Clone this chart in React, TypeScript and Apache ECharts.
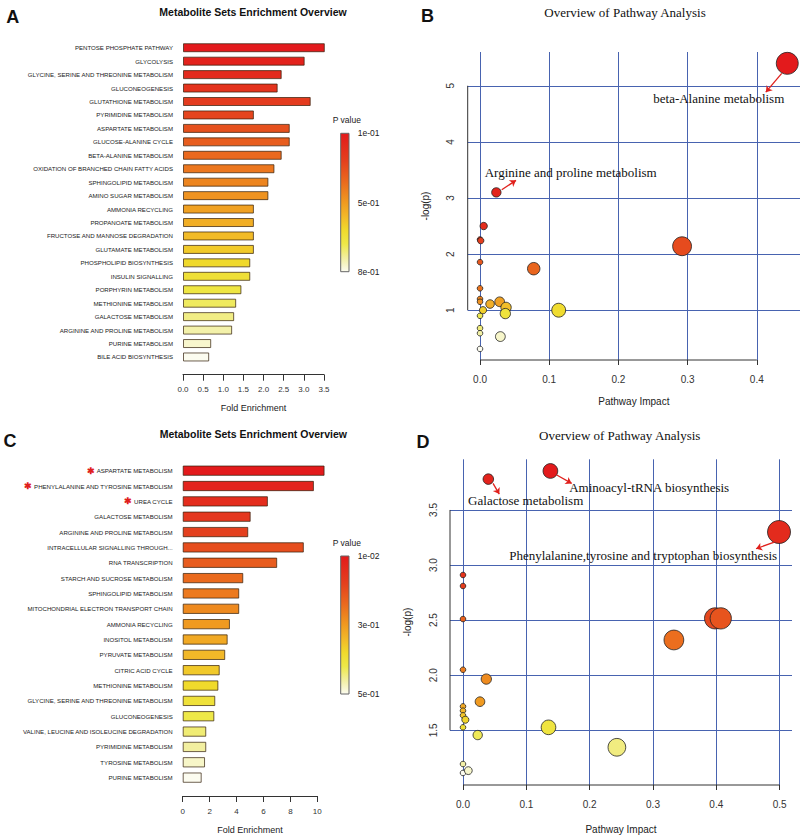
import React, { useEffect, useRef } from 'react';
import * as echarts from 'echarts';

// ---------- Panel A data ----------
const aCategories = [
  'PENTOSE PHOSPHATE PATHWAY', 'GLYCOLYSIS', 'GLYCINE, SERINE AND THREONINE METABOLISM', 'GLUCONEOGENESIS',
  'GLUTATHIONE METABOLISM', 'PYRIMIDINE METABOLISM', 'ASPARTATE METABOLISM', 'GLUCOSE-ALANINE CYCLE',
  'BETA-ALANINE METABOLISM', 'OXIDATION OF BRANCHED CHAIN FATTY ACIDS', 'SPHINGOLIPID METABOLISM',
  'AMINO SUGAR METABOLISM', 'AMMONIA RECYCLING', 'PROPANOATE METABOLISM', 'FRUCTOSE AND MANNOSE DEGRADATION',
  'GLUTAMATE METABOLISM', 'PHOSPHOLIPID BIOSYNTHESIS', 'INSULIN SIGNALLING', 'PORPHYRIN METABOLISM',
  'METHIONINE METABOLISM', 'GALACTOSE METABOLISM', 'ARGININE AND PROLINE METABOLISM', 'PURINE METABOLISM',
  'BILE ACID BIOSYNTHESIS'
];
const aFoldEnrichment = [3.52, 3.02, 2.45, 2.35, 3.17, 1.76, 2.65, 2.65, 2.45, 2.27, 2.12, 2.12, 1.76, 1.76, 1.76, 1.76, 1.67, 1.67, 1.45, 1.32, 1.27, 1.22, 0.70, 0.65];
const aLegendTicks = ['1e-01', '5e-01', '8e-01'];

// ---------- Panel C data ----------
const cCategories = [
  'ASPARTATE METABOLISM', 'PHENYLALANINE AND TYROSINE METABOLISM', 'UREA CYCLE', 'GALACTOSE METABOLISM',
  'ARGININE AND PROLINE METABOLISM', 'INTRACELLULAR SIGNALLING THROUGH...', 'RNA TRANSCRIPTION',
  'STARCH AND SUCROSE METABOLISM', 'SPHINGOLIPID METABOLISM', 'MITOCHONDRIAL ELECTRON TRANSPORT CHAIN',
  'AMMONIA RECYCLING', 'INOSITOL METABOLISM', 'PYRUVATE METABOLISM', 'CITRIC ACID CYCLE', 'METHIONINE METABOLISM',
  'GLYCINE, SERINE AND THREONINE METABOLISM', 'GLUCONEOGENESIS', 'VALINE, LEUCINE AND ISOLEUCINE DEGRADATION',
  'PYRIMIDINE METABOLISM', 'TYROSINE METABOLISM', 'PURINE METABOLISM'
];
const cFoldEnrichment = [10.54, 9.75, 6.33, 5.05, 4.87, 9.0, 7.02, 4.5, 4.2, 4.2, 3.51, 3.34, 3.16, 2.75, 2.65, 2.42, 2.35, 1.75, 1.75, 1.66, 1.41];
const cStarred = ['ASPARTATE METABOLISM', 'PHENYLALANINE AND TYROSINE METABOLISM', 'UREA CYCLE'];
const cLegendTicks = ['1e-02', '3e-01', '5e-01'];

// ---------- Panel B data ----------
const bImpact = [0.444, 0.0236, 0.0053, 0.0, 0.001, 0.0, 0.0776, 0.292, 0.0, 0.0, 0.0, 0.0145, 0.0284, 0.0376, 0.0366, 0.0043, 0.1137, 0.0, 0.0, 0.0, 0.0294, 0.0];
const bLogP = [5.40, 3.10, 2.50, 2.26, 2.24, 1.857, 1.74, 2.14, 1.39, 1.20, 1.15, 1.11, 1.15, 1.05, 0.94, 1.00, 1.00, 0.90, 0.68, 0.59, 0.53, 0.31];
const bXTicks = [0, 0.1, 0.2, 0.3, 0.4];
const bYTicks = [1, 2, 3, 4, 5];
const bAnnotations = [
  { text: 'beta-Alanine metabolism', from: [0.436, 5.22], to: [0.413, 4.886], at: [0.345, 4.775] },
  { text: 'Arginine and proline metabolism', from: [0.0314, 3.148], to: [0.052, 3.314], at: [0.131, 3.452] },
];

// ---------- Panel D data ----------
const dImpact = [0.040, 0.138, 0.499, 0.0, 0.0, 0.0, 0.398, 0.407, 0.333, 0.0, 0.0368, 0.0268, 0.0, 0.0, 0.0, 0.0037, 0.0, 0.0232, 0.135, 0.243, 0.0, 0.0, 0.0084];
const dLogP = [3.78, 3.854, 3.30, 2.91, 2.81, 2.51, 2.516, 2.516, 2.32, 2.05, 1.965, 1.76, 1.717, 1.678, 1.636, 1.596, 1.527, 1.457, 1.527, 1.346, 1.194, 1.113, 1.134];
const dXTicks = [0, 0.1, 0.2, 0.3, 0.4, 0.5];
const dYTicks = [1.5, 2.0, 2.5, 3.0, 3.5];
const dAnnotations = [
  { text: 'Galactose metabolism', from: [0.0474, 3.741], to: [0.0573, 3.644], at: [0.099, 3.584] },
  { text: 'Aminoacyl-tRNA biosynthesis', from: [0.148, 3.817], to: [0.1716, 3.741], at: [0.294, 3.708] },
  { text: 'Phenylalanine,tyrosine and tryptophan biosynthesis', from: [0.4916, 3.209], to: [0.4627, 3.148], at: [0.2845, 3.091] },
];

// ---------- colour ramp (red -> yellow -> white) ----------
const heatStops: [number, number[]][] = [
  [0, [227, 26, 28]],
  [0.2, [228, 64, 30]],
  [0.35, [234, 106, 30]],
  [0.5, [240, 154, 32]],
  [0.6, [242, 184, 40]],
  [0.7, [240, 218, 44]],
  [0.8, [238, 232, 72]],
  [0.9, [242, 239, 160]],
  [1, [252, 252, 240]],
];
function heat(t: number): string {
  const x = Math.max(0, Math.min(1, t));
  for (let i = 1; i < heatStops.length; i++) {
    const [o1, c1] = heatStops[i];
    const [o0, c0] = heatStops[i - 1];
    if (x <= o1) {
      const f = (x - o0) / (o1 - o0);
      const c = c0.map((v, k) => Math.round(v + (c1[k] - v) * f));
      return `rgb(${c[0]},${c[1]},${c[2]})`;
    }
  }
  const c = heatStops[heatStops.length - 1][1];
  return `rgb(${c[0]},${c[1]},${c[2]})`;
}
function rankT(vals: number[]): number[] {
  const idx = vals.map((v, i) => i).sort((a, b) => vals[b] - vals[a]);
  const out = new Array(vals.length).fill(0);
  idx.forEach((i, r) => { out[i] = r / (vals.length - 1); });
  return out;
}
const bubbleSize = (v: number[]) => 2 * (2.8 + 12.3 * Math.sqrt(Math.max(0, v[0])));

const GRID_BLUE = '#4863b0';
const AXIS_COL = '#333';

function gridSeries(xi: number, xs: number[], ys: number[]) {
  return {
    type: 'scatter', xAxisIndex: xi, yAxisIndex: xi, data: [], z: 1, silent: true,
    markLine: {
      z: 1, silent: true, symbol: ['none', 'none'], label: { show: false },
      lineStyle: { color: GRID_BLUE, width: 1, type: 'solid' },
      emphasis: { disabled: true },
      data: [
        ...xs.map((x) => ({ xAxis: x })),
        ...ys.map((y) => ({ yAxis: y })),
      ],
    },
  };
}

// R-style axis lines spanning first..last tick
function axisLineSeries(xi: number, pts: number[][]) {
  return {
    type: 'line', xAxisIndex: xi, yAxisIndex: xi, z: 2, silent: true, clip: false,
    data: pts, symbol: 'none', showSymbol: false,
    lineStyle: { color: AXIS_COL, width: 1 },
    emphasis: { disabled: true },
  };
}

function bubbleSeries(xi: number, xs: number[], ys: number[], ann: any[]) {
  const t = rankT(ys);
  return {
    type: 'scatter', xAxisIndex: xi, yAxisIndex: xi, z: 3,
    data: xs.map((x, i) => [x, ys[i]]),
    symbolSize: bubbleSize,
    itemStyle: { color: (p: any) => heat(t[p.dataIndex]), borderColor: '#222', borderWidth: 0.8, opacity: 1 },
    markLine: {
      z: 6, silent: true, symbol: ['none', 'arrow'], symbolSize: 6, label: { show: false },
      lineStyle: { color: '#e0201c', width: 1.3, type: 'solid' },
      data: ann.map((a) => [{ coord: a.from }, { coord: a.to }]),
    },
    markPoint: {
      z: 6, silent: true, symbol: 'rect', symbolSize: 1,
      itemStyle: { color: 'rgba(0,0,0,0)' },
      label: { show: true, position: 'inside', formatter: '{b}', color: '#111', fontFamily: 'Liberation Serif', fontSize: 13 },
      data: ann.map((a) => ({ name: a.text, coord: a.at })),
    },
  };
}

function legendGraphic(x: number, y0: number, y1: number, ticks: string[]) {
  const grad = new echarts.graphic.LinearGradient(0, 0, 0, 1,
    heatStops.map(([o, c]) => ({ offset: o, color: `rgb(${c[0]},${c[1]},${c[2]})` })));
  const els: any[] = [
    { type: 'text', x: x - 8, y: y0 - 13, style: { text: 'P value', fontSize: 8.5, fontFamily: 'Liberation Sans', fill: '#222', align: 'left', verticalAlign: 'middle' } },
    { type: 'rect', shape: { x, y: y0, width: 8.3, height: y1 - y0 }, style: { fill: grad, stroke: '#666', lineWidth: 1 } },
  ];
  ticks.forEach((tk, i) => {
    els.push({ type: 'text', x: x + 17, y: y0 + (y1 - y0) * i / (ticks.length - 1), style: { text: tk, fontSize: 8.5, fontFamily: 'Liberation Sans', fill: '#222', align: 'left', verticalAlign: 'middle' } });
  });
  return els;
}

function txt(x: number, y: number, text: string, size: number, family: string, weight = 'normal') {
  return { type: 'text', x, y, style: { text, fontSize: size, fontFamily: family, fontWeight: weight, fill: '#111', align: 'center', verticalAlign: 'middle' } };
}

export default function App() {
  const ref = useRef<HTMLDivElement>(null);
  useEffect(() => {
    if (!ref.current) return;
    const chart = echarts.init(ref.current, undefined, { renderer: 'svg' });
    const nA = aCategories.length;
    const nC = cCategories.length;
    const barAxisLabel = { fontSize: 6.1, color: '#222', fontFamily: 'Liberation Sans', margin: 10 };
    const bXMin = -0.0178, bYMin = 0.1125, dXMin = -0.02053, dYMin = 1.0036;
    const option: any = {
      animation: false,
      backgroundColor: '#fff',
      textStyle: { fontFamily: 'Liberation Sans' },
      grid: [
        { left: 183, top: 41, width: 141, height: 322.7 },
        { left: 182.7, top: 463, width: 134.6, height: 324 },
        { left: 467.7, top: 52, width: 332.3, height: 308 },
        { left: 450, top: 459.3, width: 342, height: 325.7 },
      ],
      xAxis: [
        {
          gridIndex: 0, type: 'value', min: 0, max: 3.5, interval: 0.5, offset: 11,
          axisLine: { show: true, lineStyle: { color: AXIS_COL } },
          axisTick: { show: true, length: 6, lineStyle: { color: AXIS_COL } },
          axisLabel: { fontSize: 8, color: '#333', margin: 11, formatter: (v: number) => v.toFixed(1) },
          splitLine: { show: false },
          name: 'Fold Enrichment', nameLocation: 'middle', nameGap: 29, nameTextStyle: { fontSize: 9, color: '#222' },
        },
        {
          gridIndex: 1, type: 'value', min: 0, max: 10, interval: 2, offset: 10.7,
          axisLine: { show: true, lineStyle: { color: AXIS_COL } },
          axisTick: { show: true, length: 6, lineStyle: { color: AXIS_COL } },
          axisLabel: { fontSize: 8, color: '#333', margin: 11 },
          splitLine: { show: false },
          name: 'Fold Enrichment', nameLocation: 'middle', nameGap: 29, nameTextStyle: { fontSize: 9, color: '#222' },
        },
        {
          gridIndex: 2, type: 'value', min: bXMin, max: 0.4624,
          axisLine: { show: false },
          axisTick: { show: true, length: 5, customValues: bXTicks, lineStyle: { color: AXIS_COL } },
          axisLabel: { customValues: bXTicks, fontSize: 10, color: '#333', margin: 14, formatter: (v: number) => v.toFixed(1) },
          splitLine: { show: false },
          name: 'Pathway Impact', nameLocation: 'middle', nameGap: 36, nameTextStyle: { fontSize: 10, color: '#222' },
        },
        {
          gridIndex: 3, type: 'value', min: dXMin, max: 0.5195,
          axisLine: { show: false },
          axisTick: { show: true, length: 5, customValues: dXTicks, lineStyle: { color: AXIS_COL } },
          axisLabel: { customValues: dXTicks, fontSize: 10, color: '#333', margin: 14, formatter: (v: number) => v.toFixed(1) },
          splitLine: { show: false },
          name: 'Pathway Impact', nameLocation: 'middle', nameGap: 39, nameTextStyle: { fontSize: 10, color: '#222' },
        },
      ],
      yAxis: [
        {
          gridIndex: 0, type: 'category', inverse: true, data: aCategories,
          axisLine: { show: false }, axisTick: { show: false }, axisLabel: barAxisLabel,
        },
        {
          gridIndex: 1, type: 'category', inverse: true, data: cCategories,
          axisLine: { show: false }, axisTick: { show: false },
          axisLabel: {
            ...barAxisLabel,
            formatter: (v: string) => (cStarred.includes(v) ? `{star|✱} ${v}` : v),
            rich: { star: { color: '#e0201c', fontSize: 9, fontWeight: 'bold' } },
          },
        },
        {
          gridIndex: 2, type: 'value', min: bYMin, max: 5.602,
          axisLine: { show: false },
          axisTick: { show: true, length: 5, customValues: bYTicks, lineStyle: { color: AXIS_COL } },
          axisLabel: { customValues: bYTicks, fontSize: 10, color: '#333', margin: 12, rotate: 90 },
          splitLine: { show: false },
          name: '-log(p)', nameLocation: 'middle', nameGap: 37, nameRotate: 90, nameTextStyle: { fontSize: 10, color: '#222' },
        },
        {
          gridIndex: 3, type: 'value', min: dYMin, max: 3.96,
          axisLine: { show: false },
          axisTick: { show: true, length: 5, customValues: dYTicks, lineStyle: { color: AXIS_COL } },
          axisLabel: { customValues: dYTicks, fontSize: 10, color: '#333', margin: 12, rotate: 90, formatter: (v: number) => v.toFixed(1) },
          splitLine: { show: false },
          name: '-log(p)', nameLocation: 'middle', nameGap: 38, nameRotate: 90, nameTextStyle: { fontSize: 10, color: '#222' },
        },
      ],
      series: [
        {
          type: 'bar', xAxisIndex: 0, yAxisIndex: 0, data: aFoldEnrichment, barWidth: 9, clip: false,
          itemStyle: { color: (p: any) => heat(p.dataIndex / (nA - 1)), borderColor: 'rgba(50,30,10,0.7)', borderWidth: 1 },
        },
        {
          type: 'bar', xAxisIndex: 1, yAxisIndex: 1, data: cFoldEnrichment, barWidth: 10.3, clip: false,
          itemStyle: { color: (p: any) => heat(p.dataIndex / (nC - 1)), borderColor: 'rgba(50,30,10,0.7)', borderWidth: 1 },
        },
        gridSeries(2, bXTicks, bYTicks),
        axisLineSeries(2, [[bXTicks[0], bYMin], [bXTicks[bXTicks.length - 1], bYMin]]),
        axisLineSeries(2, [[bXMin, bYTicks[0]], [bXMin, bYTicks[bYTicks.length - 1]]]),
        bubbleSeries(2, bImpact, bLogP, bAnnotations),
        gridSeries(3, dXTicks, dYTicks),
        axisLineSeries(3, [[dXTicks[0], dYMin], [dXTicks[dXTicks.length - 1], dYMin]]),
        axisLineSeries(3, [[dXMin, dYTicks[0]], [dXMin, dYTicks[dYTicks.length - 1]]]),
        bubbleSeries(3, dImpact, dLogP, dAnnotations),
      ],
      graphic: [
        txt(12.7, 16.7, 'A', 18, 'Liberation Sans', 'bold'),
        txt(427.5, 15.7, 'B', 18, 'Liberation Sans', 'bold'),
        txt(10, 440.7, 'C', 18, 'Liberation Sans', 'bold'),
        txt(423, 441.7, 'D', 18, 'Liberation Sans', 'bold'),
        txt(253, 12, 'Metabolite Sets Enrichment Overview', 10.5, 'Liberation Sans', 'bold'),
        txt(253.3, 434, 'Metabolite Sets Enrichment Overview', 10.5, 'Liberation Sans', 'bold'),
        txt(625, 12, 'Overview of Pathway Analysis', 13, 'Liberation Serif'),
        txt(619.7, 435, 'Overview of Pathway Analysis', 13, 'Liberation Serif'),
        ...legendGraphic(340.7, 133.3, 271.7, aLegendTicks),
        ...legendGraphic(340.7, 556, 694, cLegendTicks),
      ],
    };
    chart.setOption(option);
    return () => chart.dispose();
  }, []);
  return <div ref={ref} style={{ position: 'fixed', left: 0, top: 0, width: 800, height: 835, background: '#fff' }} />;
}
